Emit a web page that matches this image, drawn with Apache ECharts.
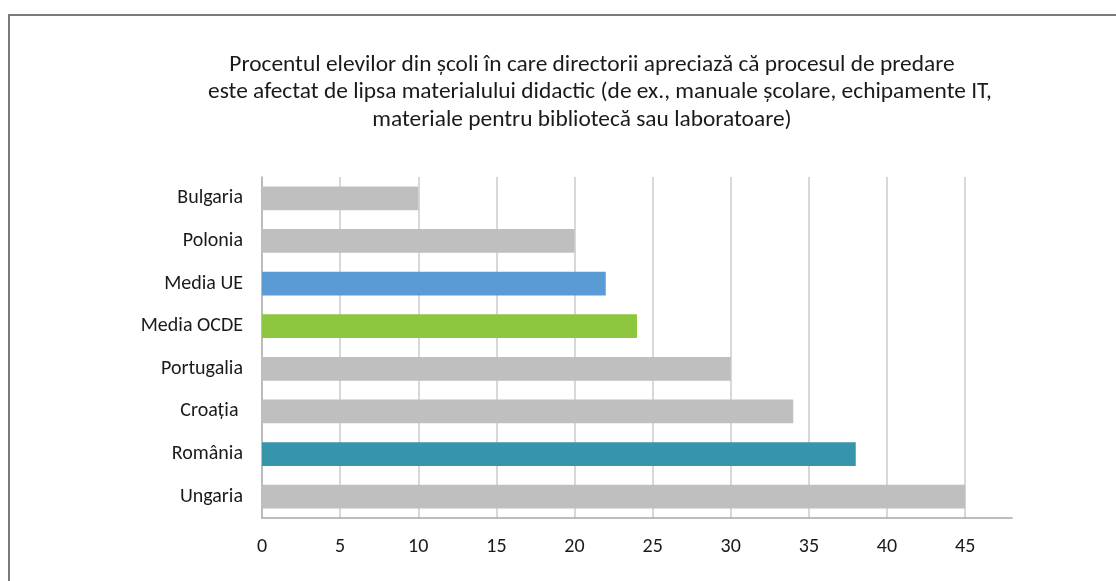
<!DOCTYPE html>
<html>
<head>
<meta charset="utf-8">
<script src="https://cdn.jsdelivr.net/npm/echarts@6/dist/echarts.min.js"></script>
<style>
  html, body { margin: 0; padding: 0; background: #fff; }
  #frame { position: absolute; left: 8px; top: 14px; width: 1108px; height: 567px;
           border-left: 2px solid #7a7a7a; border-top: 2px solid #7a7a7a; box-sizing: border-box; }
  #chart { position: absolute; left: 0; top: 0; width: 1116px; height: 581px; }
</style>
</head>
<body>
<div id="frame"></div>
<div id="chart"></div>
<script>
// Share of pupils in schools where principals report that teaching is hindered
// by a lack of instructional material
const categories = ['Bulgaria', 'Polonia', 'Media UE', 'Media OCDE', 'Portugalia', 'Croația ', 'România', 'Ungaria'];
const values = [10, 20, 22, 24, 30, 34, 38, 45];
const barColors = ['#BFBFBF', '#BFBFBF', '#5B9BD5', '#8DC63F', '#BFBFBF', '#BFBFBF', '#3795AB', '#BFBFBF'];
const titleLines = [
  'Procentul elevilor din școli în care directorii apreciază că procesul de predare',
  'este afectat de lipsa materialului didactic (de ex., manuale școlare, echipamente IT,',
  'materiale pentru bibliotecă sau laboratoare)'
];

const fontFamily = 'Carlito, Lato, "Open Sans", sans-serif';
const titleStyle = { fontFamily, fontSize: 23.4, fontWeight: 'normal', color: '#1a1a1a' };
// each wrapped title line is centred on its own anchor
const titleCenters = [592, 600, 582];
const chart = echarts.init(document.getElementById('chart'), null, { renderer: 'canvas' });

chart.setOption({
  backgroundColor: 'transparent',
  animation: false,
  title: titleLines.map((line, i) => ({
    text: line,
    left: titleCenters[i],
    textAlign: 'center',
    top: 53.5 + i * 27.5,
    padding: 0,
    textStyle: titleStyle
  })),
  grid: { left: 262, right: 104, top: 177, bottom: 63, containLabel: false },
  xAxis: {
    type: 'value',
    min: 0,
    max: 48,
    interval: 5,
    axisLine: { show: true, lineStyle: { color: '#A6A6A6', width: 1.5 } },
    axisTick: { show: false },
    axisLabel: { showMaxLabel: false, margin: 19, fontFamily, fontSize: 20, color: '#1a1a1a' },
    splitLine: { show: true, showMinLine: false, showMaxLine: false, lineStyle: { color: '#CBCBCB', width: 1.5 } }
  },
  yAxis: {
    type: 'category',
    inverse: true,
    data: categories,
    axisLine: { show: true, lineStyle: { color: '#A6A6A6', width: 1.5 } },
    axisTick: { show: false },
    axisLabel: { margin: 19, fontFamily, fontSize: 20, color: '#1a1a1a' }
  },
  series: [{
    type: 'bar',
    barCategoryGap: '44%',
    data: values.map((v, i) => ({ value: v, itemStyle: { color: barColors[i] } }))
  }]
});
</script>
</body>
</html>
